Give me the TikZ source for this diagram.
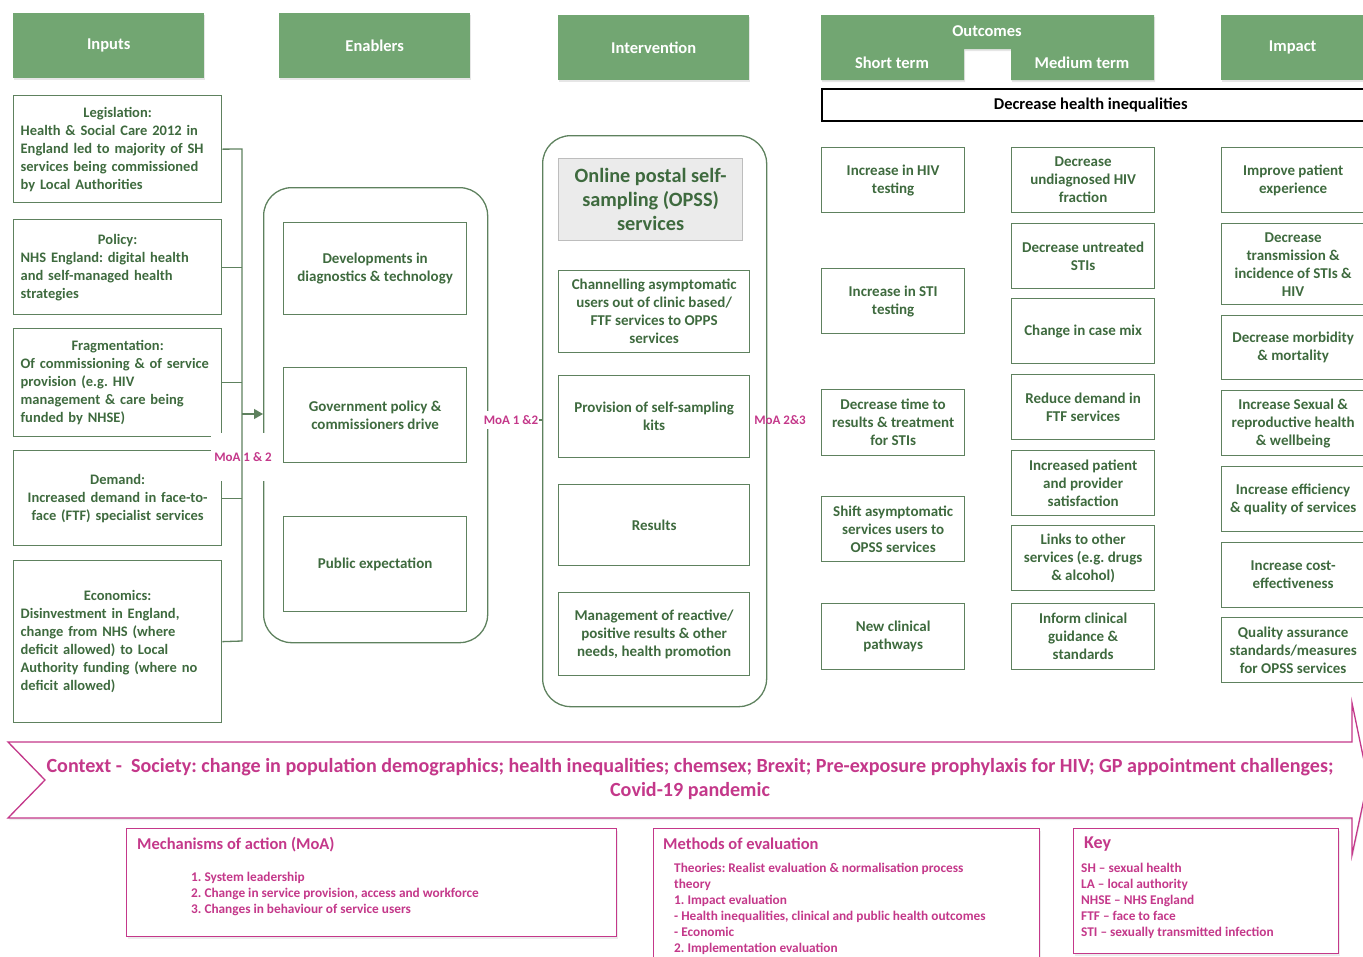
\documentclass[tikz,border=0pt]{standalone}
\usepackage{fontspec}
\setmainfont{Carlito}
\usetikzlibrary{arrows.meta,shadows}
\definecolor{hdrg}{HTML}{72A672}
\definecolor{bdg}{HTML}{5E815E}
\definecolor{txg}{HTML}{3E6A3E}
\definecolor{pk}{HTML}{C4388A}
\definecolor{opssfill}{HTML}{EBEBEB}
\definecolor{opssbd}{HTML}{BDBDBD}
\frenchspacing
\begin{document}
\begin{tikzpicture}[x=1pt,y=-1pt,
  hdr/.style={fill=hdrg, text=white, font=\bfseries\fontsize{16.5}{18}\selectfont, anchor=north west, inner sep=0pt,
     drop shadow={shadow xshift=1pt,shadow yshift=-2pt,opacity=0.2}},
  hdrtxt/.style={text=white, font=\bfseries\fontsize{16.5}{18}\selectfont, inner sep=0pt},
  gb/.style={draw=bdg, line width=1.3pt, text=txg, font=\bfseries\fontsize{15}{18}\selectfont, align=center, anchor=north west, inner sep=2pt},
  inb/.style={gb, font=\bfseries\fontsize{14.5}{18}\selectfont, text width=194pt, inner xsep=7pt, align=left, minimum width=208pt},
  rbox/.style={draw=bdg, line width=1.3pt, rounded corners=28pt, anchor=north west, inner sep=0pt},
  conn/.style={draw=bdg, line width=1.3pt},
  moa/.style={text=pk, font=\bfseries\fontsize{13}{16}\selectfont, inner sep=1pt},
  pbox/.style={draw=pk, fill=white, line width=1.2pt, anchor=north west, inner sep=0pt,
     drop shadow={shadow xshift=1pt,shadow yshift=-2pt,opacity=0.15}},
  ptitle/.style={text=pk, font=\bfseries\fontsize{16.5}{18}\selectfont, anchor=west, inner sep=0pt},
  pitems/.style={text=pk, font=\bfseries\fontsize{13.3}{16}\selectfont, anchor=west, align=left, inner sep=0pt}
]
\useasboundingbox (0,0) rectangle (1363,956);

% ---------- headers ----------
\node[hdr, minimum width=191pt, minimum height=65pt] (hInputs) at (13,13) {Inputs};
\node[hdr, minimum width=191pt, minimum height=65pt] (hEnab) at (279,13) {Enablers};
\node[hdr, minimum width=191pt, minimum height=65pt] (hInt) at (558,15) {Intervention};
\node[hdr, minimum width=143pt, minimum height=65pt] (hImp) at (1221,15) {Impact};
\path[fill=hdrg, drop shadow={shadow xshift=1pt,shadow yshift=-2pt,opacity=0.2}]
  (821,15) -- (1154,15) -- (1154,80) -- (1011,80) -- (1011,49) -- (964,49) -- (964,80) -- (821,80) -- cycle;
\node[hdrtxt] (hOut) at (987,31) {Outcomes};
\node[hdrtxt] (hShort) at (892,63) {Short term};
\node[hdrtxt] (hMed) at (1082,63) {Medium term};

\node[draw=black, line width=1.5pt, anchor=north west, minimum width=546pt, minimum height=32pt, inner sep=0pt,
  font=\bfseries\fontsize{16.5}{18}\selectfont] (dhi) at (821,88) {\hspace*{-4pt}Decrease health inequalities\hspace*{4pt}};

% ---------- inputs ----------
\node[inb, minimum height=107pt] (leg) at (13,95) {\makebox[194pt]{Legislation:}\\Health \& Social Care 2012 in\\England led to majority of SH\\services being commissioned\\by Local Authorities};
\node[inb, minimum height=95pt] (pol) at (13,219) {\makebox[194pt]{Policy:}\\NHS England: digital health\\and self-managed health\\strategies};
\node[inb, minimum height=108pt] (frag) at (13,328) {\makebox[194pt]{Fragmentation:}\\Of commissioning \& of service\\provision (e.g. HIV\\management \& care being\\funded by NHSE)};
\node[inb, minimum height=95pt, align=center] (dem) at (13,450) {Demand:\\Increased demand in face-to-\\face (FTF) specialist services};
\node[inb, minimum height=162pt] (eco) at (13,560) {\makebox[194pt]{Economics:}\\Disinvestment in England,\\change from NHS (where\\deficit allowed) to Local\\Authority funding (where no\\deficit allowed)};

% ---------- enablers ----------
\node[rbox, minimum width=224pt, minimum height=455pt] (enab) at (263,187) {};
\node[gb, minimum width=183pt, minimum height=92pt] (dev) at (283,222) {Developments in\\diagnostics \& technology};
\node[gb, minimum width=183pt, minimum height=95pt] (gov) at (283,367) {Government policy \&\\commissioners drive};
\node[gb, minimum width=183pt, minimum height=95pt] (pub) at (283,516) {Public expectation};

% ---------- intervention ----------
\node[rbox, minimum width=224pt, minimum height=571pt] (intv) at (542,135) {};
\node[draw=opssbd, fill=opssfill, line width=1.2pt, anchor=north west, minimum width=184pt, minimum height=82pt,
  align=center, text=txg, font=\bfseries\fontsize{20.3}{24}\selectfont, inner sep=0pt] (opss) at (558,158) {Online postal self-\\sampling (OPSS)\\services};
\node[gb, minimum width=191pt, minimum height=82pt] (chan) at (558,270) {Channelling asymptomatic\\users out of clinic based/\\FTF services to OPPS\\services};
\node[gb, minimum width=191pt, minimum height=82pt] (prov) at (558,375) {Provision of self-sampling\\kits};
\node[gb, minimum width=191pt, minimum height=81pt] (res) at (558,484) {Results};
\node[gb, minimum width=191pt, minimum height=83pt] (mgmt) at (558,592) {Management of reactive/\\positive results \& other\\needs, health promotion};

% ---------- short term ----------
\node[gb, minimum width=143pt, minimum height=65pt] (s1) at (821,147) {Increase in HIV\\testing};
\node[gb, minimum width=143pt, minimum height=65pt] (s2) at (821,268) {Increase in STI\\testing};
\node[gb, minimum width=143pt, minimum height=66pt] (s3) at (821,389) {Decrease time to\\results \& treatment\\for STIs};
\node[gb, minimum width=143pt, minimum height=65pt] (s4) at (821,496) {Shift asymptomatic\\services users to\\OPSS services};
\node[gb, minimum width=143pt, minimum height=66pt] (s5) at (821,603) {New clinical\\pathways};

% ---------- medium term ----------
\node[gb, minimum width=143pt, minimum height=65pt] (m1) at (1011,147) {Decrease\\undiagnosed HIV\\fraction};
\node[gb, minimum width=143pt, minimum height=65pt] (m2) at (1011,223) {Decrease untreated\\STIs};
\node[gb, minimum width=143pt, minimum height=65pt] (m3) at (1011,298) {Change in case mix};
\node[gb, minimum width=143pt, minimum height=65pt] (m4) at (1011,374) {Reduce demand in\\FTF services};
\node[gb, minimum width=143pt, minimum height=65pt] (m5) at (1011,450) {Increased patient\\and provider\\satisfaction};
\node[gb, minimum width=143pt, minimum height=65pt] (m6) at (1011,525) {Links to other\\services (e.g. drugs\\\& alcohol)};
\node[gb, minimum width=143pt, minimum height=66pt] (m7) at (1011,603) {Inform clinical\\guidance \&\\standards};

% ---------- impact ----------
\node[gb, minimum width=143pt, minimum height=65pt] (i1) at (1221,147) {Improve patient\\experience};
\node[gb, minimum width=143pt, minimum height=81pt] (i2) at (1221,223) {Decrease\\transmission \&\\incidence of STIs \&\\HIV};
\node[gb, minimum width=143pt, minimum height=64pt] (i3) at (1221,315) {Decrease morbidity\\\& mortality};
\node[gb, minimum width=143pt, minimum height=65pt] (i4) at (1221,390) {Increase Sexual \&\\reproductive health\\\& wellbeing};
\node[gb, minimum width=143pt, minimum height=65pt] (i5) at (1221,466) {Increase efficiency\\\& quality of services};
\node[gb, minimum width=143pt, minimum height=65pt] (i6) at (1221,542) {Increase cost-\\effectiveness};
\node[gb, minimum width=143pt, minimum height=65pt] (i7) at (1221,617) {Quality assurance\\standards/measures\\for OPSS services};

% ---------- MoA labels and connectors ----------
\node[moa, fill=white, minimum width=64pt, minimum height=48pt] (moa12a) at (243,457) {MoA 1 \& 2};
\coordinate (busTop) at (242,149);
\coordinate (busBot) at (242,641);
\coordinate (busArr) at (242,414);
\draw[conn] (leg.east) -- (busTop) -- (busBot) -- (eco.east);
\draw[conn] (pol.east) -- (pol.east -| busTop);
\draw[conn] (frag.east) -- (frag.east -| busTop);
\draw[conn] (dem.east) -- (dem.east -| busTop);
\draw[conn, -{Triangle[length=9pt,width=10pt]}] (busArr) -- (busArr -| enab.west);

\coordinate (mid12) at (enab.east |- 0,420);
\draw[conn] (mid12) -- (mid12 -| intv.west);
\node[moa, fill=white, minimum height=18pt] (moa12b) at (511,420) {MoA 1 \&2};
\node[moa] (moa23) at (780,420) {MoA 2\&3};

% ---------- context arrow ----------
\path[draw=pk, line width=1.3pt, fill=white, drop shadow={shadow xshift=1pt,shadow yshift=-2pt,opacity=0.15}]
  (8,742) -- (1352,742) -- (1352,703) -- (1368,780) -- (1352,855) -- (1352,818) -- (8,818) -- (45,780) -- cycle;
\node[text=pk, align=center, font=\bfseries\fontsize{20.1}{24}\selectfont, inner sep=0pt] (ctx) at (690,779)
  {Context -\ \ Society: change in population demographics; health inequalities; chemsex; Brexit; Pre-exposure prophylaxis for HIV; GP appointment challenges;\\Covid-19 pandemic};

% ---------- bottom boxes ----------
\node[pbox, minimum width=490pt, minimum height=108pt] (moaBox) at (126,828) {};
\node[ptitle] (moaTitle) at (137,845) {Mechanisms of action (MoA)};
\node[pitems] (moaItems) at (191,894) {1. System leadership\\2. Change in service provision, access and workforce\\3. Changes in behaviour of service users};

\node[pbox, minimum width=386pt, minimum height=140pt] (methBox) at (653,828) {};
\node[ptitle] (methTitle) at (663,844) {Methods of evaluation};
\node[pitems] (methItems) at (674,909) {Theories: Realist evaluation \& normalisation process\\theory\\1. Impact evaluation\\- Health inequalities, clinical and public health outcomes\\- Economic\\2. Implementation evaluation};

\node[pbox, minimum width=265pt, minimum height=125pt] (keyBox) at (1073,828) {};
\node[ptitle, font=\bfseries\fontsize{18}{20}\selectfont] (keyTitle) at (1084,844) {Key};
\node[pitems] (keyItems) at (1081,901) {SH – sexual health\\LA – local authority\\NHSE – NHS England\\FTF – face to face\\STI – sexually transmitted infection};
\end{tikzpicture}
\end{document}
